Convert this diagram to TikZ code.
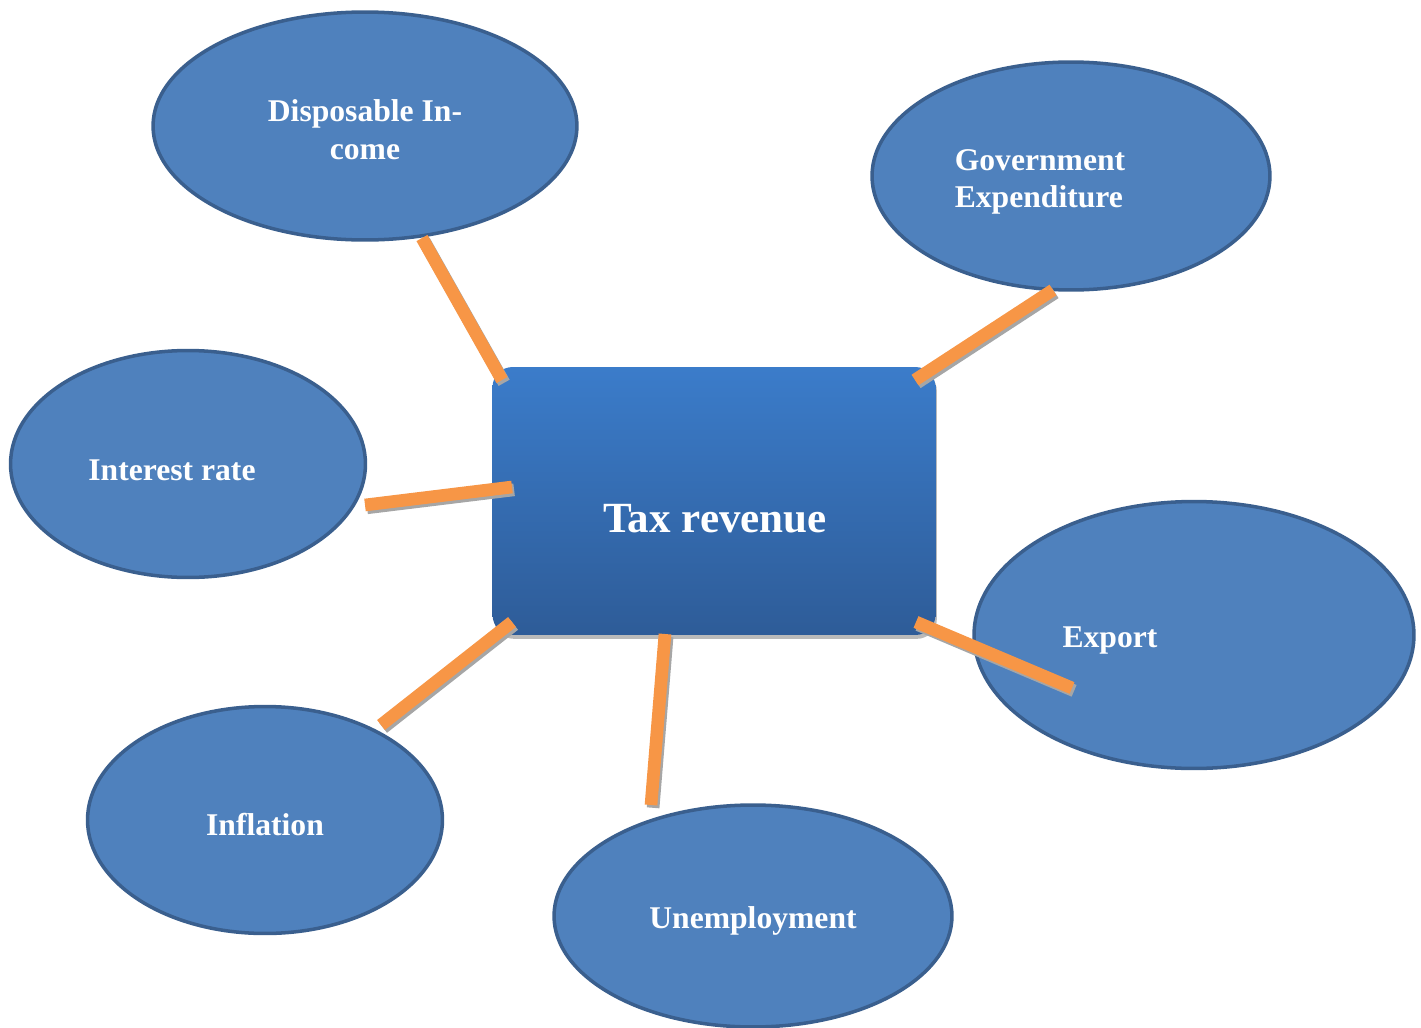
\documentclass[tikz,border=0pt]{standalone}
\usepackage{fontspec}
\setmainfont{Liberation Serif}
\usetikzlibrary{shapes.geometric,shadows}
\definecolor{bubblefill}{HTML}{4F81BD}
\definecolor{bubbleline}{HTML}{3A5F8E}
\definecolor{taxtop}{HTML}{3B7CCA}
\definecolor{taxbottom}{HTML}{2E5C98}
\definecolor{linkorange}{HTML}{F79646}
\begin{document}
\begin{tikzpicture}[x=0.02cm,y=-0.02cm,
  bubble/.style={draw=bubbleline,fill=bubblefill,ellipse,line width=2pt,inner sep=0pt},
  bubbletext/.style={text=white,font=\fontsize{18}{21.5}\selectfont\bfseries,inner sep=0pt},
  link/.style={draw=linkorange,line width=7.2pt,
    preaction={draw=black!35,line width=7.2pt,transform canvas={xshift=1.2pt,yshift=-1.6pt}}}]
\useasboundingbox (0,0) rectangle (1421,1028);

\node[bubble,minimum width=8.48cm,minimum height=4.56cm](inc) at (365,126) {};
\node[bubble,minimum width=7.96cm,minimum height=4.56cm](gov) at (1071,176) {};
\node[bubble,minimum width=7.1cm,minimum height=4.54cm](int) at (188,464) {};
\node[bubble,minimum width=8.8cm,minimum height=5.34cm](exp) at (1194,635) {};
\node[bubble,minimum width=7.1cm,minimum height=4.54cm](inf) at (265,820) {};
\node[bubble,minimum width=7.96cm,minimum height=4.44cm](une) at (753,916) {};

\node[bubbletext,align=center](inc-t) at (365,130) {Disposable In-\\come};
\node[bubbletext,align=left](gov-t) at (1040,182) {Government\\Expenditure};
\node[bubbletext](int-t) at (172,470) {Interest rate};
\node[bubbletext](exp-t) at (1110,641) {Export};
\node[bubbletext](inf-t) at (265,825) {Inflation};
\node[bubbletext](une-t) at (753,921) {Unemployment};

\node[rectangle,rounded corners=0.4cm,minimum width=8.86cm,minimum height=5.36cm,
  top color=taxtop,bottom color=taxbottom,
  drop shadow={shadow xshift=0.8pt,shadow yshift=-2.2pt,opacity=0.45,fill=black!60}](tax) at (714,501) {};
\node[text=white,font=\fontsize{24.5}{28}\selectfont\bfseries,inner sep=0pt](tax-t) at (715,519) {Tax revenue};

% ends of the connectors
\coordinate (inc-a) at (422,238);
\coordinate (inc-b) at (502,380);
\coordinate (gov-a) at (1053,290);
\coordinate (gov-b) at (915,380);
\coordinate (int-a) at (365,505);
\coordinate (int-b) at (512,487);
\coordinate (inf-a) at (381,725);
\coordinate (inf-b) at (512,622);
\coordinate (une-a) at (651,805);
\coordinate (une-b) at (665,634);
\coordinate (exp-a) at (1072,688);
\coordinate (exp-b) at (916,622);

\draw[link] (inc-a) -- (inc-b);
\draw[link] (gov-a) -- (gov-b);
\draw[link] (int-a) -- (int-b);
\draw[link] (inf-a) -- (inf-b);
\draw[link] (une-a) -- (une-b);
\draw[link] (exp-b) -- (exp-a);

\end{tikzpicture}
\end{document}
